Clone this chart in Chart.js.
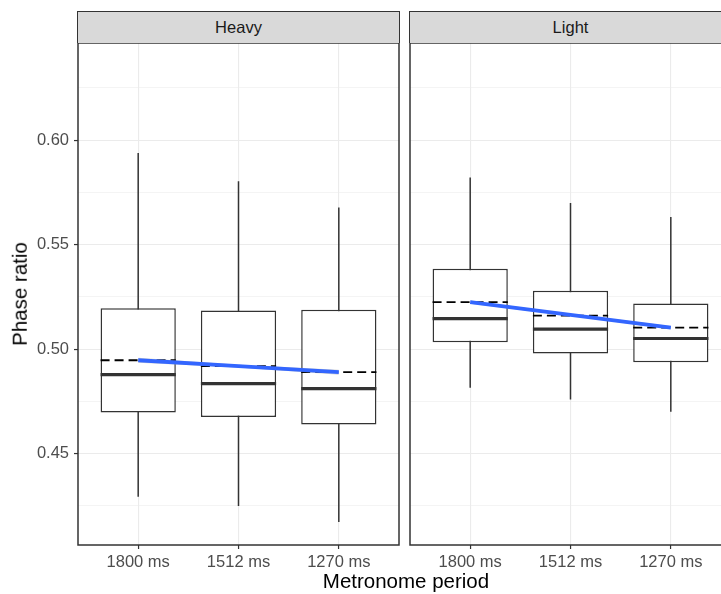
<!DOCTYPE html>
<html>
<head>
<meta charset="utf-8">
<script src="https://cdn.jsdelivr.net/npm/chart.js@4.4.1/dist/chart.umd.min.js"></script>
<style>
  html, body { margin: 0; padding: 0; overflow: hidden; background: #fff; }
  #page { position: relative; width: 721px; height: 594px; overflow: hidden; font-family: "Liberation Sans", Arial, sans-serif; }
  canvas { position: absolute; top: 0; }
  .strip {
    position: absolute; top: 11px; height: 32px; box-sizing: border-box;
    background: #d9d9d9; border: 1px solid #333; border-bottom: none;
    color: #1a1a1a; font-size: 16.5px; line-height: 30px; text-align: center;
  }
  .title { position: absolute; color: #000; font-size: 20.5px; line-height: 20.5px; white-space: nowrap; }
</style>
</head>
<body>
<div id="page">
  <canvas id="heavyChart" width="400" height="594" style="left:0"></canvas>
  <canvas id="lightChart" width="326" height="594" style="left:405px"></canvas>
  <div class="strip" style="left:77px; width:323px">Heavy</div>
  <div class="strip" style="left:409px; width:323px">Light</div>
  <div class="title" style="left:20px; top:294px; transform:translate(-50%,-50%) rotate(-90deg)">Phase ratio</div>
  <div class="title" style="left:78px; width:656px; top:571px; text-align:center">Metronome period</div>
</div>
<script>
const categories = ["1800 ms", "1512 ms", "1270 ms"];
const yMajorTicks = [0.45, 0.5, 0.55, 0.6];
const yMinorTicks = [0.425, 0.475, 0.525, 0.575, 0.625];
const yMin = 0.4063;
const yMax = 0.6465;

const heavyLow = [0.4294, 0.425, 0.4173];
const heavyQ1 = [0.4697, 0.4676, 0.4639];
const heavyMedian = [0.4878, 0.4835, 0.4811];
const heavyQ3 = [0.5196, 0.5185, 0.5189];
const heavyHigh = [0.5939, 0.5804, 0.5678];
const heavyMean = [0.4947, 0.4919, 0.489];
const heavyFit = [0.4947, 0.4919, 0.489];
const heavySe = [0.0012, 0.0007, 0.0012];

const lightLow = [0.4816, 0.4759, 0.4701];
const lightQ1 = [0.5033, 0.4979, 0.4938];
const lightMedian = [0.5146, 0.5096, 0.5051];
const lightQ3 = [0.5385, 0.5279, 0.5218];
const lightHigh = [0.5822, 0.57, 0.5632];
const lightMean = [0.5225, 0.5161, 0.5103];
const lightFit = [0.5225, 0.5164, 0.5103];
const lightSe = [0.0008, 0.0005, 0.0008];

const boxHalf = 0.375;
const fontFamily = '"Liberation Sans", Arial, sans-serif';

function pointsAt(values) {
  return values.map((v, i) => ({ x: i + 1, y: v }));
}

function boxData(q1, q3) {
  return q1.map((v, i) => ({ x: i + 1, y: [v, q3[i]] }));
}

function vSegments(lo, hi) {
  let pts = [];
  lo.forEach((v, i) => {
    pts.push({ x: i + 1, y: v }, { x: i + 1, y: hi[i] }, { x: i + 1, y: null });
  });
  return pts;
}

function hSegments(values) {
  let pts = [];
  values.forEach((v, i) => {
    pts.push({ x: i + 1 - boxHalf, y: v }, { x: i + 1 + boxHalf, y: v }, { x: i + 1, y: null });
  });
  return pts;
}

const panelBorder = {
  id: "panelBorder",
  afterDraw(chart) {
    let a = chart.chartArea;
    let ctx = chart.ctx;
    ctx.save();
    ctx.strokeStyle = "#333333";
    ctx.lineWidth = 1.5;
    ctx.strokeRect(a.left, a.top, a.right - a.left, a.bottom - a.top);
    ctx.restore();
  },
};

function MakePanel(id, d, showAxis, padLeft, padRight) {
  return new Chart(id, {
    type: "bar",
    data: {
      datasets: [
        { type: "line", data: pointsAt(d.fit), borderColor: "#3366FF", borderWidth: 3.8, pointRadius: 0, fill: false },
        { type: "line", data: pointsAt(d.fit.map((v, i) => v - d.se[i])), borderColor: "rgba(0,0,0,0)", pointRadius: 0, fill: false },
        { type: "line", data: pointsAt(d.fit.map((v, i) => v + d.se[i])), borderColor: "rgba(0,0,0,0)", pointRadius: 0, fill: "-1", backgroundColor: "rgba(153,153,153,0.4)" },
        { type: "line", data: hSegments(d.mean), borderColor: "#000000", borderWidth: 1.8, borderDash: [9, 5], pointRadius: 0, fill: false },
        { type: "line", data: hSegments(d.median), borderColor: "#333333", borderWidth: 3.2, pointRadius: 0, fill: false },
        {
          type: "bar",
          data: boxData(d.q1, d.q3),
          backgroundColor: "#ffffff",
          borderColor: "#333333",
          borderWidth: 1.5,
          borderSkipped: false,
          barPercentage: 0.75,
          categoryPercentage: 1,
        },
        { type: "line", data: vSegments(d.low, d.high), borderColor: "#333333", borderWidth: 1.5, pointRadius: 0, fill: false },
      ],
    },
    options: {
      responsive: false,
      animation: false,
      layout: { padding: { top: 43, left: padLeft, right: padRight, bottom: 0 } },
      plugins: { legend: { display: false }, tooltip: { enabled: false } },
      scales: {
        x: {
          type: "linear",
          min: 0.4,
          max: 3.6,
          offset: false,
          bounds: "data",
          afterBuildTicks: (s) => {
            s.ticks = categories.map((c, i) => ({ value: i + 1 }));
          },
          afterFit: (s) => {
            s.height = 49;
          },
          ticks: {
            callback: (v) => categories[v - 1],
            font: { family: fontFamily, size: 16.5 },
            color: "#4d4d4d",
            padding: 4,
            maxRotation: 0,
            autoSkip: false,
          },
          grid: { color: "#ebebeb", lineWidth: 1.1, tickColor: "#333333", tickLength: 4, tickWidth: 1.2, offset: false },
          border: { display: false },
        },
        y: {
          type: "linear",
          min: yMin,
          max: yMax,
          bounds: "data",
          beginAtZero: false,
          afterBuildTicks: (s) => {
            s.ticks = yMajorTicks.concat(yMinorTicks).sort((a, b) => a - b).map((v) => ({ value: v }));
          },
          afterFit: (s) => {
            s.width = showAxis ? 78 : 0;
          },
          ticks: {
            display: showAxis,
            callback: (v) => (yMajorTicks.includes(v) ? v.toFixed(2) : ""),
            font: { family: fontFamily, size: 16.5 },
            color: "#4d4d4d",
            padding: 5,
            autoSkip: false,
          },
          grid: {
            color: "#ebebeb",
            lineWidth: (c) => (yMinorTicks.includes(c.tick.value) ? 0.55 : 1.1),
            drawTicks: showAxis,
            tickColor: (c) => (yMinorTicks.includes(c.tick.value) ? "rgba(0,0,0,0)" : "#333333"),
            tickLength: 4,
            tickWidth: 1.2,
          },
          border: { display: false },
        },
      },
    },
    plugins: [panelBorder],
  });
}

MakePanel("heavyChart", {
  low: heavyLow, q1: heavyQ1, median: heavyMedian, q3: heavyQ3, high: heavyHigh,
  mean: heavyMean, fit: heavyFit, se: heavySe,
}, true, 0, 1);

MakePanel("lightChart", {
  low: lightLow, q1: lightQ1, median: lightMedian, q3: lightQ3, high: lightHigh,
  mean: lightMean, fit: lightFit, se: lightSe,
}, false, 5, 0);
</script>
</body>
</html>
